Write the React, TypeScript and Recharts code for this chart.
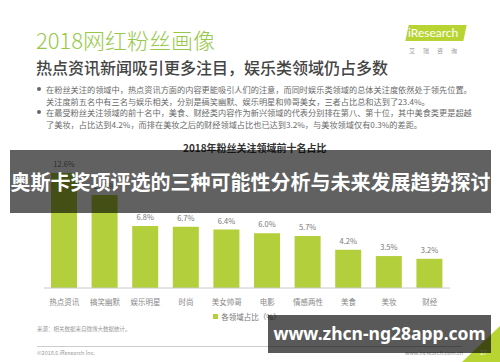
import { BarChart, Bar, XAxis, YAxis, LabelList, Legend } from 'recharts'

const categories = ['热点资讯', '搞笑幽默', '娱乐明星', '时尚', '美女帅哥', '电影', '情感两性', '美食', '美妆', '财经']
const shares = [12.6, 10.2, 6.8, 6.7, 6.4, 6.0, 5.7, 4.2, 3.5, 3.2]

const bulletLines = [
  '在粉丝关注的领域中，热点资讯方面的内容更能吸引人们的注意，而同时娱乐类领域的总体关注度依然处于领先位置。',
  '关注度前五名中有三名与娱乐相关，分别是搞笑幽默、娱乐明星和帅哥美女，三者占比总和达到了23.4%。',
  '在最受粉丝关注领域的前十名中，美食、财经类内容作为新兴领域的代表分别排在第八、第十位，其中美食类更是超越',
  '了美妆，占比达到4.2%，而排在美妆之后的财经领域占比也已达到3.2%，与美妆领域仅有0.3%的差距。',
]

const data = categories.map((name, i) => ({ name, value: shares[i] }))

const CJK = '"Noto Sans CJK SC", "Noto Sans", sans-serif'
const BAR_GREEN = '#b3cf3b'

const abs = (left: number, top: number, extra: React.CSSProperties = {}): React.CSSProperties => ({
  position: 'absolute',
  left,
  top,
  whiteSpace: 'nowrap',
  fontFamily: CJK,
  lineHeight: 1,
  ...extra,
})

const LegendContent = () => (
  <div style={{ display: 'flex', alignItems: 'center', justifyContent: 'center', fontFamily: CJK, fontSize: 7.5, color: '#777' }}>
    <span style={{ width: 5, height: 5, background: BAR_GREEN, display: 'inline-block', marginRight: 3 }} />
    各领域占比（%）
  </div>
)

export default function App() {
  return (
    <div style={{ position: 'absolute', left: 0, top: 0, width: 500, height: 362, background: '#fff', overflow: 'hidden' }}>
      {/* header */}
      <div style={abs(36, 28, { fontSize: 22, color: '#98c84a', fontWeight: 300 })}>2018网红粉丝画像</div>
      <div style={abs(36, 59, { fontSize: 16, color: '#444', fontWeight: 500 })}>热点资讯新闻吸引更多注目，娱乐类领域仍占多数</div>

      {/* logo */}
      <div style={{ position: 'absolute', left: 407, top: 25, width: 58, height: 16, background: '#b8d433', transform: 'skewX(-12deg)' }} />
      <div style={abs(408, 27, { fontSize: 12, color: '#fff', fontFamily: 'Lato, sans-serif' })}>iResearch</div>
      <div style={abs(409, 48, { fontSize: 6, color: '#999', letterSpacing: 8 })}>艾瑞咨询</div>

      {/* bullets */}
      {bulletLines.map((line, i) => (
        <div key={i} style={abs(46, 85 + i * 11.7, { fontSize: 8.2, color: '#6a6a6a' })}>
          {line}
        </div>
      ))}
      <div style={{ position: 'absolute', left: 37, top: 87, width: 4, height: 4, borderRadius: 2, background: '#666' }} />
      <div style={{ position: 'absolute', left: 37, top: 110, width: 4, height: 4, borderRadius: 2, background: '#666' }} />

      <div style={abs(183, 143, { fontSize: 10, color: '#333', fontWeight: 700 })}>2018年粉丝关注领域前十名占比</div>

      <div style={{ position: 'absolute', left: 0, top: 0 }}>
        <BarChart width={500} height={362} data={data} margin={{ top: 173, right: 50, left: 44, bottom: 30 }}>
          <XAxis
            dataKey="name"
            height={30}
            tickLine={false}
            axisLine={{ stroke: '#c8c8c8' }}
            interval={0}
            tick={{ fontSize: 7.5, fill: '#888', fontFamily: CJK }}
            tickMargin={6}
          />
          <YAxis hide domain={[0, 12.6]} />
          <Legend verticalAlign="bottom" height={14} content={<LegendContent />} wrapperStyle={{ top: 311, bottom: 'auto' }} />
          <Bar dataKey="value" fill={BAR_GREEN} barSize={26} isAnimationActive={false}>
            <LabelList
              dataKey="value"
              position="top"
              offset={6}
              formatter={(v: number) => `${v.toFixed(1)}%`}
              style={{ fontSize: 7.5, fill: '#777', fontFamily: CJK }}
            />
          </Bar>
        </BarChart>
      </div>

      {/* footer */}
      <div style={abs(37, 327, { fontSize: 5.5, color: '#999' })}>来源：相关数据来自微博大数据统计。</div>
      <div style={{ position: 'absolute', left: 37, top: 346, width: 425, height: 1, background: '#ccc' }} />
      <div style={abs(37, 351, { fontSize: 5.5, color: '#999' })}>©2018.6 iResearch Inc.</div>
      <div style={abs(405, 351, { fontSize: 5.5, color: '#999' })}>www.iresearch.com.cn</div>
      <div style={{ position: 'absolute', left: 462, top: 326, width: 38, height: 36, background: '#b8d433', clipPath: 'polygon(100% 0, 100% 100%, 0 100%)' }} />
      <div style={abs(480, 350, { fontSize: 6, color: '#fff' })}>17</div>

      {/* overlays */}
      <div style={{ position: 'absolute', left: 10, top: 150, width: 481, height: 63, background: 'rgba(0,0,0,0.62)', zIndex: 10 }} />
      <div style={abs(10, 172, { width: 481, textAlign: 'center', fontSize: 20, fontWeight: 700, color: '#fff', zIndex: 11 })}>
        奥斯卡奖项评选的三种可能性分析与未来发展趋势探讨
      </div>
      <div style={{ position: 'absolute', left: 268, top: 315, width: 223, height: 38, background: 'rgba(0,0,0,0.65)', zIndex: 10 }} />
      <div style={abs(268, 325, { width: 223, textAlign: 'center', fontSize: 17.5, fontWeight: 700, color: '#fff', fontFamily: '"Noto Sans", sans-serif', zIndex: 11 })}>
        www.zhcn-ng28app.com
      </div>
    </div>
  )
}
